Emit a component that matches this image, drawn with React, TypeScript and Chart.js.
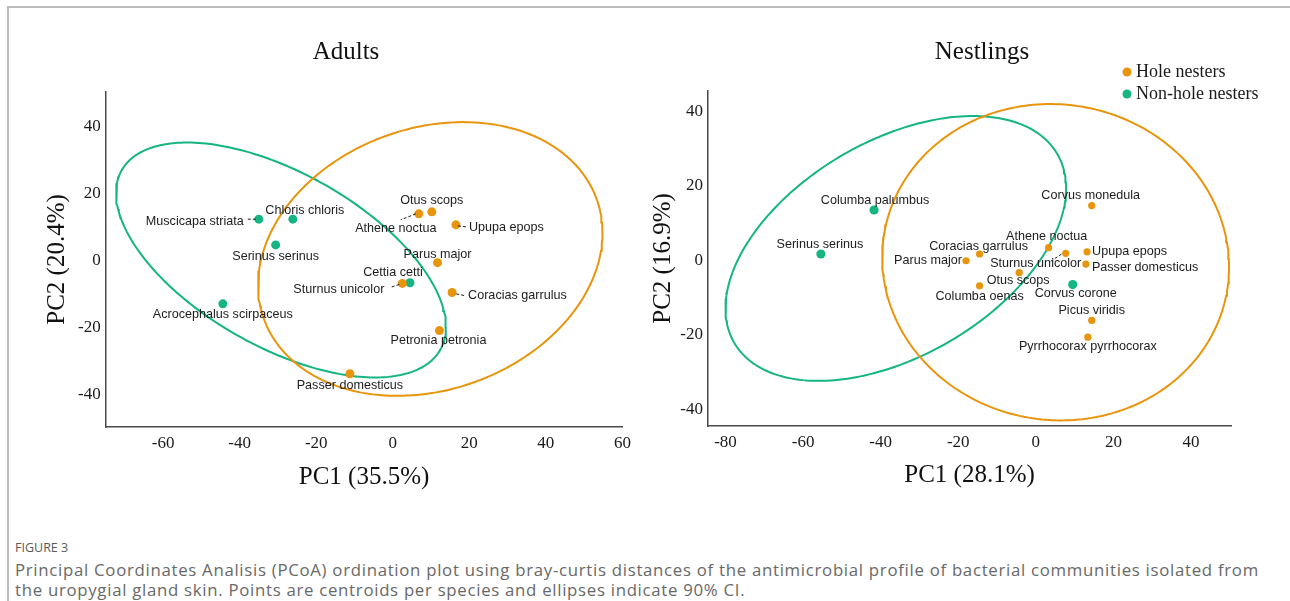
import React, { useEffect, useRef } from 'react';
import { Chart, registerables } from 'chart.js';

Chart.register(...registerables);

const SERIF = '"Liberation Serif", "Times New Roman", Times, serif';
const SANS = '"Liberation Sans", Arial, Helvetica, sans-serif';
const HOLE_COLOR = '#E8940C';
const NONHOLE_COLOR = '#14B582';
const GROUP_LABELS = ['Hole nesters', 'Non-hole nesters'];

// ---------------- Adults ----------------
const adultSpecies = [
  'Muscicapa striata', 'Chloris chloris', 'Serinus serinus', 'Acrocephalus scirpaceus', 'Cettia cetti',
  'Sturnus unicolor', 'Otus scops', 'Athene noctua', 'Upupa epops', 'Parus major',
  'Coracias garrulus', 'Petronia petronia', 'Passer domesticus',
];
const adultNesting = [
  'non-hole', 'non-hole', 'non-hole', 'non-hole', 'non-hole',
  'hole', 'hole', 'hole', 'hole', 'hole', 'hole', 'hole', 'hole',
];
const adultPC1 = [-35.0, -26.1, -30.6, -44.4, 4.5, 2.5, 10.2, 6.8, 16.5, 11.7, 15.5, 12.2, -11.2];
const adultPC2 = [12.3, 12.3, 4.6, -13.0, -6.7, -6.9, 14.5, 13.9, 10.6, -0.7, -9.6, -21.0, -33.9];
const adultXTicks = [-60, -40, -20, 0, 20, 40, 60];
const adultYTicks = [-40, -20, 0, 20, 40];
// 90% CI ellipses: [centre PC1, centre PC2, half width, half height, PC2 offset at rightmost point]
const adultHoleEllipse = [9.8, 0.4, 45.0, 40.9, 7.8];
const adultNonHoleEllipse = [-29.2, 0.1, 43.1, 35.1, -20.0];

// ---------------- Nestlings ----------------
const nestSpecies = [
  'Columba palumbus', 'Serinus serinus', 'Corvus corone', 'Corvus monedula', 'Athene noctua',
  'Coracias garrulus', 'Parus major', 'Sturnus unicolor', 'Upupa epops', 'Passer domesticus',
  'Otus scops', 'Columba oenas', 'Picus viridis', 'Pyrrhocorax pyrrhocorax',
];
const nestNesting = [
  'non-hole', 'non-hole', 'non-hole', 'hole', 'hole', 'hole', 'hole',
  'hole', 'hole', 'hole', 'hole', 'hole', 'hole', 'hole',
];
const nestPC1 = [-41.7, -55.4, 9.5, 14.4, 3.3, -14.5, -18.0, 7.7, 13.2, 12.9, -4.3, -14.5, 14.4, 13.4];
const nestPC2 = [13.5, 1.7, -6.5, 14.7, 3.4, 1.7, -0.1, 1.9, 2.3, -1.0, -3.3, -6.8, -16.1, -20.6];
const nestXTicks = [-80, -60, -40, -20, 0, 20, 40];
const nestYTicks = [-40, -20, 0, 20, 40];
const nestHoleEllipse = [5.1, -0.5, 44.7, 42.4, -1.3];
const nestNonHoleEllipse = [-36.1, 3.2, 43.9, 35.5, 16.1];

// ---------------- label placement (pixel offsets from the point; layout only) ----------------
type Place = [number, number, CanvasTextAlign];
const adultLabelPlacement: Place[] = [
  [-15, 2, 'right'], [12, -9, 'center'], [0, 12, 'center'], [0, 11, 'center'], [-17, -10, 'center'],
  [-18, 6, 'right'], [0, -11, 'center'], [-23, 15, 'center'], [13, 3, 'left'], [0, -8, 'center'],
  [16, 3, 'left'], [-1, 10, 'center'], [0, 12, 'center'],
];
const adultLeaders: (number[] | null)[] = [
  [-11, 0, -3, 0], null, null, null, null,
  [-12, 4, -3, 1], null, [-18, 6, -3, 0], [2, 1, 10, 2], null,
  [2, 1, 12, 3], null, null,
];
const nestLabelPlacement: Place[] = [
  [1, -9, 'center'], [-1, -10, 'center'], [3, 9, 'center'], [-1, -10, 'center'], [-2, -11, 'center'],
  [-1, -8, 'center'], [-4, 0, 'right'], [-30, 10, 'center'], [5, 0, 'left'], [6, 3, 'left'],
  [-1, 8, 'center'], [0, 11, 'center'], [0, -10, 'center'], [0, 9, 'center'],
];
const nestLeaders: (number[] | null)[] = [
  null, null, null, null, null, null, null, [-3, 0, -15, 8], null, null, null, null, null, null,
];

function ellipsePoints(e: number[]) {
  const [cx, cy, w, h, d] = e;
  const k = Math.sqrt(Math.max(h * h - d * d, 0));
  const pts: { x: number; y: number }[] = [];
  const n = 240;
  for (let i = 0; i <= n; i++) {
    const t = (i / n) * Math.PI * 2;
    pts.push({ x: cx + w * Math.cos(t), y: cy + d * Math.cos(t) + k * Math.sin(t) });
  }
  return pts;
}

function speciesLabels(names: string[], pc1: number[], pc2: number[], place: Place[], leaders: (number[] | null)[]) {
  return {
    id: 'speciesLabels',
    afterDatasetsDraw(chart: any) {
      const { ctx } = chart;
      const xs = chart.scales.x;
      const ys = chart.scales.y;
      ctx.save();
      ctx.font = `12.6px ${SANS}`;
      ctx.fillStyle = '#1c1c1c';
      ctx.strokeStyle = '#1c1c1c';
      ctx.lineWidth = 1;
      ctx.textBaseline = 'middle';
      names.forEach((name, i) => {
        const px = xs.getPixelForValue(pc1[i]);
        const py = ys.getPixelForValue(pc2[i]);
        const [dx, dy, align] = place[i];
        ctx.textAlign = align;
        ctx.fillText(name, px + dx, py + dy);
        const l = leaders[i];
        if (l) {
          ctx.setLineDash([3, 2]);
          ctx.beginPath();
          ctx.moveTo(px + l[2], py + l[3]);
          ctx.lineTo(px + l[0], py + l[1]);
          ctx.stroke();
          ctx.setLineDash([]);
        }
      });
      ctx.restore();
    },
  };
}

const cornerLegend = {
  id: 'cornerLegend',
  afterDraw(chart: any) {
    const { ctx, chartArea } = chart;
    ctx.save();
    ctx.font = `18px ${SERIF}`;
    ctx.textAlign = 'left';
    ctx.textBaseline = 'middle';
    [0, 1].forEach((di) => {
      const ds = chart.data.datasets[di];
      const cx = chartArea.right - 104;
      const cy = chartArea.top - 19 + di * 22;
      ctx.fillStyle = ds.backgroundColor;
      ctx.beginPath();
      ctx.arc(cx, cy, 4.5, 0, Math.PI * 2);
      ctx.fill();
      ctx.fillStyle = '#1a1a1a';
      ctx.fillText(ds.label, cx + 9, cy);
    });
    ctx.restore();
  },
};

type PanelSpec = {
  title: string; xTitle: string; yTitle: string;
  species: string[]; nesting: string[]; pc1: number[]; pc2: number[];
  xTicks: number[]; yTicks: number[]; xRange: number[]; yRange: number[];
  holeEllipse: number[]; nonHoleEllipse: number[];
  place: Place[]; leaders: (number[] | null)[];
  left: number; top: number; width: number; height: number;
  yAxisWidth: number; xAxisHeight: number; rightGap: number; titleTop: number; titleBottom: number;
  rHole: number; rNon: number; legend: boolean;
};

function Panel({ spec }: { spec: PanelSpec }) {
  const ref = useRef<HTMLCanvasElement | null>(null);
  useEffect(() => {
    if (!ref.current) return;
    const s = spec;
    const pick = (g: string) => s.species.map((_, i) => i).filter((i) => s.nesting[i] === g)
      .map((i) => ({ x: s.pc1[i], y: s.pc2[i] }));
    const plugins: any[] = [speciesLabels(s.species, s.pc1, s.pc2, s.place, s.leaders)];
    if (s.legend) plugins.push(cornerLegend);
    const chart = new Chart(ref.current, {
      type: 'scatter',
      data: {
        datasets: [
          { label: GROUP_LABELS[0], data: pick('hole'), backgroundColor: HOLE_COLOR, borderColor: HOLE_COLOR, pointRadius: s.rHole, pointBorderWidth: 0 },
          { label: GROUP_LABELS[1], data: pick('non-hole'), backgroundColor: NONHOLE_COLOR, borderColor: NONHOLE_COLOR, pointRadius: s.rNon, pointBorderWidth: 0 },
          { label: 'Hole nesters 90% CI', data: ellipsePoints(s.holeEllipse), showLine: true, pointRadius: 0, borderColor: HOLE_COLOR, backgroundColor: HOLE_COLOR, borderWidth: 2, fill: false, tension: 0 },
          { label: 'Non-hole nesters 90% CI', data: ellipsePoints(s.nonHoleEllipse), showLine: true, pointRadius: 0, borderColor: NONHOLE_COLOR, backgroundColor: NONHOLE_COLOR, borderWidth: 2, fill: false, tension: 0 },
        ] as any,
      },
      options: {
        animation: false,
        responsive: false,
        devicePixelRatio: 1,
        layout: { padding: 0 },
        plugins: {
          legend: { display: false },
          tooltip: { enabled: false },
          title: {
            display: true, text: s.title, color: '#111',
            font: { family: SERIF, size: 25, weight: 'normal' },
            padding: { top: s.titleTop, bottom: s.titleBottom },
          },
        },
        scales: {
          x: {
            type: 'linear', min: s.xRange[0], max: s.xRange[1],
            afterBuildTicks: (sc: any) => { sc.ticks = s.xTicks.map((v) => ({ value: v })); },
            afterFit: (sc: any) => { sc.height = s.xAxisHeight; },
            grid: { display: false, drawTicks: false },
            border: { display: true, color: '#4a4a4a', width: 1.5 },
            ticks: { padding: 6, color: '#1a1a1a', font: { family: SERIF, size: 17 } },
            title: { display: true, text: s.xTitle, color: '#111', font: { family: SERIF, size: 25 }, padding: { top: 0, bottom: 3.4 } },
          },
          y: {
            type: 'linear', min: s.yRange[0], max: s.yRange[1],
            afterBuildTicks: (sc: any) => { sc.ticks = s.yTicks.map((v) => ({ value: v })); },
            afterFit: (sc: any) => { sc.width = s.yAxisWidth; },
            grid: { display: false, drawTicks: false },
            border: { display: true, color: '#4a4a4a', width: 1.5 },
            ticks: { padding: 5, color: '#1a1a1a', font: { family: SERIF, size: 17 } },
            title: { display: true, text: s.yTitle, color: '#111', font: { family: SERIF, size: 25 }, padding: { top: 4, bottom: 0 } },
          },
          gap: {
            type: 'linear', position: 'right', display: true,
            afterFit: (sc: any) => { sc.width = s.rightGap; },
            grid: { display: false, drawTicks: false },
            border: { display: false },
            ticks: { display: false },
          },
        },
      } as any,
      plugins,
    });
    return () => chart.destroy();
  }, [spec]);
  return (
    <canvas
      ref={ref}
      width={spec.width}
      height={spec.height}
      style={{ position: 'absolute', left: spec.left, top: spec.top, width: spec.width, height: spec.height }}
    />
  );
}

const adultsSpec: PanelSpec = {
  title: 'Adults', xTitle: 'PC1 (35.5%)', yTitle: 'PC2 (20.4%)',
  species: adultSpecies, nesting: adultNesting, pc1: adultPC1, pc2: adultPC2,
  xTicks: adultXTicks, yTicks: adultYTicks, xRange: [-75, 60], yRange: [-49.8, 50.3],
  holeEllipse: adultHoleEllipse, nonHoleEllipse: adultNonHoleEllipse,
  place: adultLabelPlacement, leaders: adultLeaders,
  left: 38, top: 20, width: 616, height: 476,
  yAxisWidth: 67.7, xAxisHeight: 69, rightGap: 31.6, titleTop: 17, titleBottom: 25,
  rHole: 4.5, rNon: 4.5, legend: false,
};

const nestlingsSpec: PanelSpec = {
  title: 'Nestlings', xTitle: 'PC1 (28.1%)', yTitle: 'PC2 (16.9%)',
  species: nestSpecies, nesting: nestNesting, pc1: nestPC1, pc2: nestPC2,
  xTicks: nestXTicks, yTicks: nestYTicks, xRange: [-84.5, 50.3], yRange: [-44.4, 45.4],
  holeEllipse: nestHoleEllipse, nonHoleEllipse: nestNonHoleEllipse,
  place: nestLabelPlacement, leaders: nestLeaders,
  left: 644, top: 20, width: 676, height: 474,
  yAxisWidth: 64, xAxisHeight: 68, rightGap: 89, titleTop: 17, titleBottom: 24,
  rHole: 3.6, rNon: 4.6, legend: true,
};

export default function App() {
  return (
    <div style={{ position: 'fixed', left: 0, top: 0, width: 1290, height: 601, overflow: 'hidden', background: '#fff' }}>
      <div style={{ position: 'absolute', left: 7, top: 6, width: 1300, height: 620, borderTop: '2px solid #bcbcbc', borderLeft: '2px solid #bcbcbc' }} />
      <Panel spec={adultsSpec} />
      <Panel spec={nestlingsSpec} />
      <div style={{ position: 'absolute', left: 15, top: 540, fontFamily: '"Open Sans", sans-serif', fontSize: 12.5, lineHeight: '15px', color: '#5a5a5a', whiteSpace: 'nowrap' }}>
        FIGURE 3
      </div>
      <div style={{ position: 'absolute', left: 15, top: 559.5, fontFamily: '"Open Sans", sans-serif', fontSize: 16.8, letterSpacing: '0.71px', lineHeight: '20.5px', color: '#686868', whiteSpace: 'nowrap' }}>
        Principal Coordinates Analisis (PCoA) ordination plot using bray-curtis distances of the antimicrobial profile of bacterial communities isolated from
        <br />
        the uropygial gland skin. Points are centroids per species and ellipses indicate 90% CI.
      </div>
    </div>
  );
}
